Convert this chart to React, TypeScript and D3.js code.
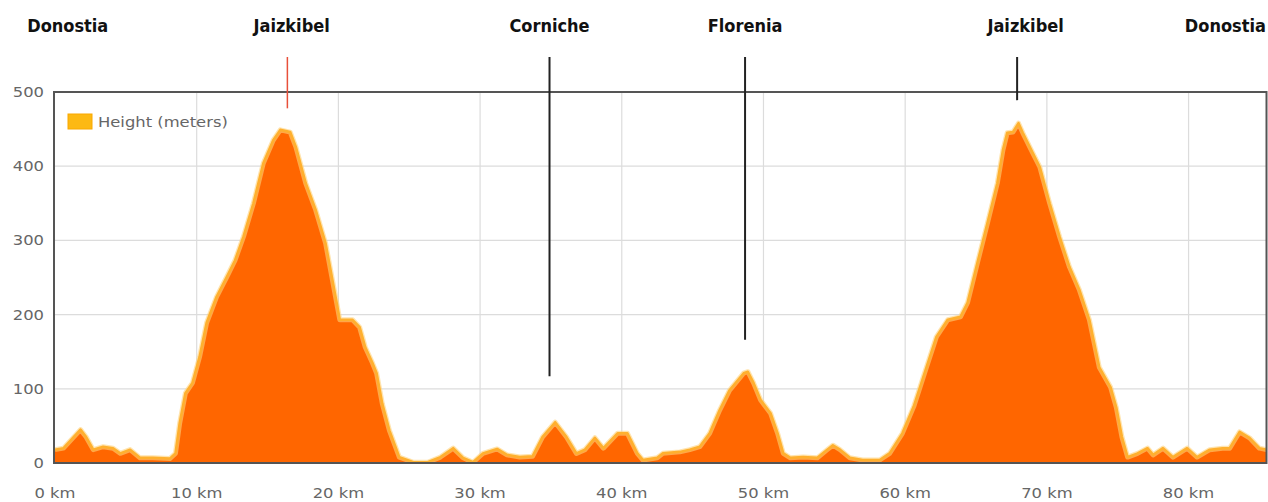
import React from "react";
import * as d3 from "d3";

// Route profile: distance (km) and height (meters)
const distanceKm = [
  0, 0.6, 1.8, 2.2, 2.7, 3.4, 4.1, 4.6, 5.3, 6.0, 6.9, 8.1, 8.5, 8.8, 9.2, 9.7,
  10.2, 10.7, 11.4, 12.1, 12.7, 13.3, 14.0, 14.7, 15.4, 15.9, 16.6, 17.0, 17.7,
  18.4, 19.1, 19.8, 20.1, 21.0, 21.5, 21.9, 22.4, 22.7, 23.1, 23.6, 24.3, 25.3,
  26.3, 27.2, 28.1, 28.8, 29.5, 30.2, 31.2, 31.9, 32.8, 33.7, 34.4, 35.3, 36.1,
  36.8, 37.4, 38.1, 38.7, 39.7, 40.4, 41.1, 41.5, 42.5, 42.9, 44.1, 44.8, 45.5,
  46.2, 46.9, 47.6, 48.6, 48.9, 49.3, 49.8, 50.5, 51.0, 51.4, 51.9, 52.8, 53.8,
  54.5, 54.9, 55.4, 56.1, 57.0, 58.2, 58.9, 59.8, 60.6, 61.5, 62.2, 63.0, 63.9,
  64.4, 65.1, 65.8, 66.5, 66.9, 67.2, 67.6, 68.0, 68.3, 69.0, 69.5, 70.2, 70.9,
  71.6, 72.3, 73.0, 73.7, 74.5, 74.9, 75.3, 75.7, 76.4, 77.1, 77.5, 78.2, 78.9,
  79.9, 80.6, 81.5, 82.4, 82.9, 83.6, 84.3, 85.0, 85.5,
];
const heightM = [
  18, 20, 45, 35, 18, 22, 20, 13, 18, 7, 7, 6, 13, 54, 94, 108,
  143, 189, 224, 250, 273, 305, 350, 404, 435, 449, 446, 426, 377,
  341, 296, 224, 193, 193, 183, 156, 135, 121, 80, 44, 8, 1,
  1, 8, 20, 7, 1, 13, 19, 11, 8, 9, 35, 55, 35,
  13, 18, 34, 20, 40, 40, 13, 4, 7, 13, 15, 18, 22,
  40, 71, 98, 121, 123, 108, 85, 67, 40, 13, 7, 8, 7,
  18, 24, 18, 7, 4, 4, 13, 40, 76, 129, 170, 193, 197,
  216, 270, 323, 377, 422, 445, 446, 458, 445, 418, 399, 350, 305,
  264, 233, 193, 129, 102, 75, 35, 8, 13, 20, 11, 20, 8,
  20, 8, 18, 20, 20, 42, 34, 20, 18,
];

// Place names along the route
const placeNames = ["Donostia", "Jaizkibel", "Corniche", "Florenia", "Jaizkibel", "Donostia"];
const placeKm = [0.9, 16.7, 34.9, 48.7, 68.5, 82.6];
// Marker lines: km position, lower end (height value), colour
const markerKm = [16.4, 34.9, 48.7, 67.9];
const markerEnd = [478, 117, 166, 489];
const markerColor = ["#e8503a", "#222", "#222", "#222"];

const yTicks = [0, 100, 200, 300, 400, 500];
const xTicks = [0, 10, 20, 30, 40, 50, 60, 70, 80];
const seriesName = "Height (meters)";

const W = 1268;
const H = 502;
const left = 55;
const right = 1266.5;
const top = 92;
const bottom = 463;

export default function App() {
  const x = d3.scaleLinear().domain([0, 85.5]).range([left, right]);
  const y = d3.scaleLinear().domain([0, 500]).range([bottom, top]);
  const pts = distanceKm.map((d, i) => [d, heightM[i]] as [number, number]);
  const area = d3
    .area<[number, number]>()
    .x((d) => x(d[0]))
    .y0(y(0))
    .y1((d) => y(d[1]));
  const line = d3
    .line<[number, number]>()
    .x((d) => x(d[0]))
    .y((d) => y(d[1]));

  const tickFont = "'DejaVu Sans', Verdana, sans-serif";
  const sx = 1.17;

  return (
    <svg
      width={W}
      height={H}
      style={{ position: "absolute", left: 0, top: 0, background: "#fff" }}
    >
      <rect x={0} y={0} width={W} height={H} fill="#fff" />
      <defs>
        <clipPath id="plot">
          <rect x={54} y={top} width={right - 54} height={bottom - top} />
        </clipPath>
      </defs>
      {/* grid */}
      {yTicks.slice(1, -1).map((t) => (
        <line key={"gy" + t} x1={54} x2={right} y1={y(t)} y2={y(t)} stroke="#dcdcdc" strokeWidth={1.2} />
      ))}
      {xTicks.slice(1).map((t) => (
        <line key={"gx" + t} x1={x(t)} x2={x(t)} y1={top} y2={bottom} stroke="#dcdcdc" strokeWidth={1.2} />
      ))}
      {/* area */}
      <g clipPath="url(#plot)">
        <path d={area(pts) || ""} fill="#ff6600" />
        <path d={line(pts) || ""} fill="none" stroke="#ffd27a" strokeWidth={5} strokeOpacity={0.6} strokeLinejoin="round" />
        <path d={line(pts) || ""} fill="none" stroke="#ffb02e" strokeWidth={2.5} strokeLinejoin="round" />
      </g>
      {/* frame */}
      <rect x={54} y={top} width={right - 54} height={bottom - top} fill="none" stroke="#555" strokeWidth={2} />
      {/* y tick labels */}
      {yTicks.map((t) => (
        <text
          key={"yt" + t}
          transform={`translate(44,${y(t) + 5}) scale(${sx},1)`}
          textAnchor="end"
          fontFamily={tickFont}
          fontSize={14}
          fill="#666"
        >
          {t}
        </text>
      ))}
      {/* x tick labels */}
      {xTicks.map((t) => (
        <text
          key={"xt" + t}
          transform={`translate(${x(t)},498) scale(${sx},1)`}
          textAnchor="middle"
          fontFamily={tickFont}
          fontSize={14}
          fill="#666"
        >
          {t + " km"}
        </text>
      ))}
      {/* legend */}
      <rect x={68} y={114} width={24} height={15} fill="#fdb913" stroke="#f9a800" strokeWidth={1} />
      <text
        transform={`translate(98,127) scale(${sx},1)`}
        fontFamily={tickFont}
        fontSize={14}
        fill="#666"
      >
        {seriesName}
      </text>
      {/* markers */}
      {markerKm.map((k, i) => (
        <line
          key={"m" + i}
          x1={x(k)}
          x2={x(k)}
          y1={57}
          y2={y(markerEnd[i])}
          stroke={markerColor[i]}
          strokeWidth={i === 0 ? 1.5 : 2}
        />
      ))}
      {/* place names */}
      {placeNames.map((n, i) => (
        <text
          key={"p" + i}
          x={x(placeKm[i])}
          y={32}
          textAnchor="middle"
          fontFamily="'DejaVu Sans Condensed', 'DejaVu Sans', sans-serif"
          fontWeight="bold"
          fontSize={18}
          fill="#111"
        >
          {n}
        </text>
      ))}
    </svg>
  );
}
